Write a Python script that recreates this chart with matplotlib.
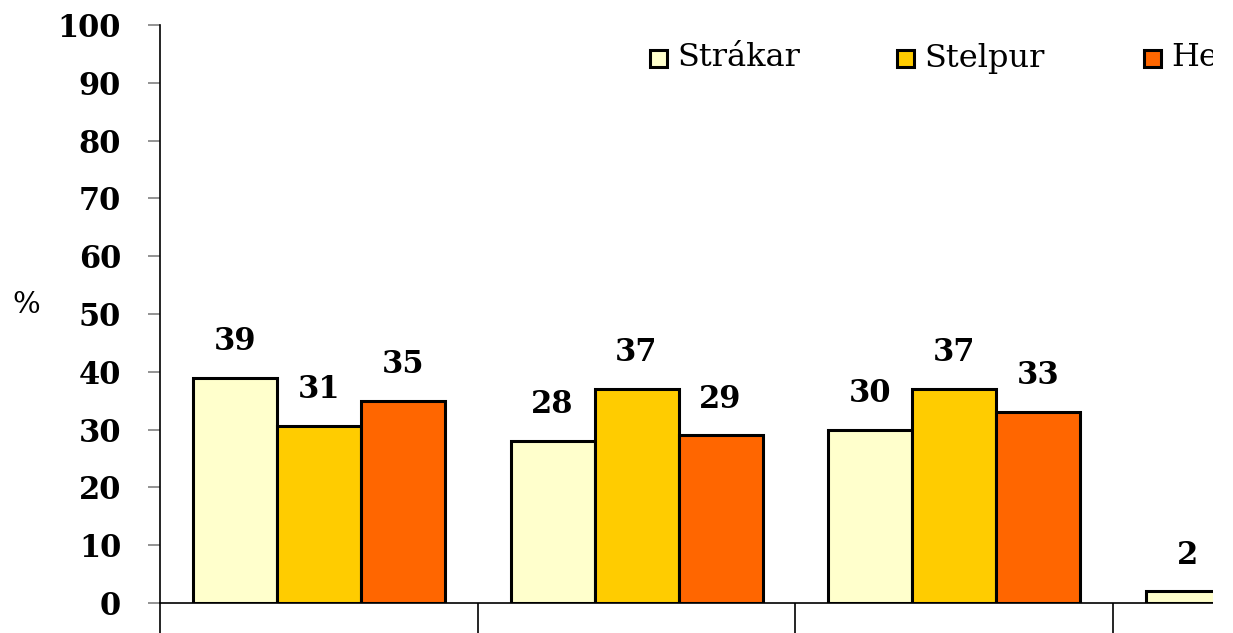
import numpy as np
import matplotlib.pyplot as plt
from matplotlib.patches import Rectangle

# gögn lesin af myndinni
flokkar = ['1', '2', '3', '4']
strakar = [39, 28, 30, 2]
stelpur = [30.6, 37, 37]
heild = [35, 29, 33]
raðir = ['Strákar', 'Stelpur', 'Heild']
litir = ['#FFFFCC', '#FFCC00', '#FF6600']

W, H = 1233, 633
fig = plt.figure(figsize=(W / 100, H / 100), dpi=100)
ax = fig.add_axes([160 / W, (H - 603) / H, (1213 - 160) / W, (603 - 25) / H])

font = 'DejaVu Serif'
bw = 84 / 317.7
for i, (vals, col) in enumerate(zip([strakar, stelpur, heild], litir)):
    x = np.arange(len(vals)) + 0.5 + (i - 1) * bw
    bars = ax.bar(x, vals, width=bw, color=col, edgecolor='black', linewidth=2.2, zorder=3, clip_on=True)
    for b, v in zip(bars, vals):
        ax.annotate(f'{v:.0f}', (b.get_x() + b.get_width() / 2, v), xytext=(0, 15),
                    textcoords='offset points', ha='center', va='bottom',
                    fontsize=22, fontfamily=font, fontweight='bold', annotation_clip=True)

ax.set_ylim(0, 100)
ax.set_xlim(0, (1213 - 160) / 317.7)
ax.set_yticks(np.arange(0, 101, 10))
ax.set_xticks(np.arange(0, 4))
ax.set_xticklabels([])
ax.tick_params(axis='y', length=9, width=1.2, color='#808080', pad=19, labelsize=22)
ax.tick_params(axis='x', direction='out', length=24, width=1.2, color='black')
for lab in ax.get_yticklabels():
    lab.set_fontfamily(font)
    lab.set_fontweight('bold')
for s in ['top', 'right']:
    ax.spines[s].set_visible(False)
ax.spines['left'].set_linewidth(1.2)
ax.spines['bottom'].set_linewidth(1.2)

fig.text(12 / W, 1 - 305 / H, '%', fontsize=21, fontfamily=font, va='center', ha='left')

# skýringar
for i, (lab, col) in enumerate(zip(raðir, litir)):
    x0 = 650 + 247 * i
    fig.add_artist(Rectangle((x0 / W, 1 - 67 / H), 17 / W, 17 / H, transform=fig.transFigure,
                             facecolor=col, edgecolor='black', linewidth=2.2))
    fig.text((x0 + 27) / W, 1 - 58 / H, lab, fontsize=23, fontfamily=font, va='center', ha='left')

# myndin er skorin til hægri
fig.add_artist(Rectangle((1213 / W, 0), 20 / W, 1, transform=fig.transFigure,
                         facecolor='white', edgecolor='none', zorder=100))

fig.savefig('out.png', dpi=100)
